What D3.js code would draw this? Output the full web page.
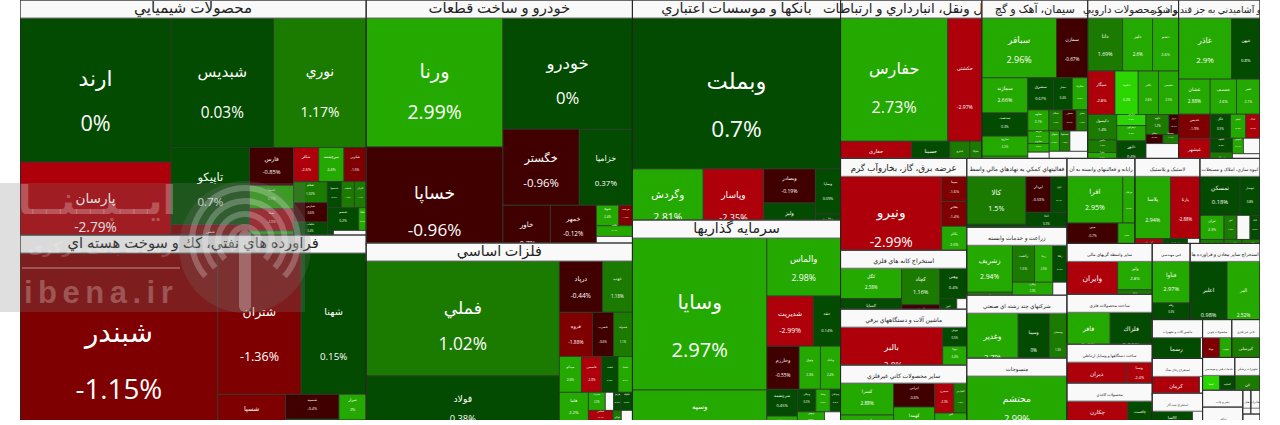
<!DOCTYPE html>
<html lang="fa">
<head>
<meta charset="utf-8">
<title>نقشه بازار</title>
<script src="https://cdn.jsdelivr.net/npm/d3@7"></script>
<style>
  body { margin: 0; background: #fff; }
  svg { display: block; font-family: "Open Sans", "DejaVu Sans", sans-serif; }
</style>
</head>
<body>
<div id="chart"></div>
<script>
// صنایع: نام و وزن هر گروه (تخمین از روی تصویر)
const sectorNames = [
  'محصولات شيميايي', 'فراورده هاي نفتي، کك و سوخت هسته اي', 'خودرو و ساخت قطعات', 'فلزات اساسي',
  'بانکها و موسسات اعتباري', 'سرمايه گذاريها', 'حمل ونقل، انبارداري و ارتباطات', 'سيمان، آهک و گچ',
  'مواد و محصولات دارويي', 'غذايي و آشاميدني به جز قند و شکر', 'عرضه برق، گاز، بخاروآب گرم', 'استخراج کانه هاي فلزي',
  'ماشين آلات و دستگاههاي برقي', 'ساير محصولات کاني غيرفلزي', 'فعاليتهاي کمکي به نهادهاي مالي واسط', 'زراعت و خدمات وابسته',
  'شرکتهاي چند رشته اي صنعتي', 'منسوجات', 'رايانه و فعاليتهاي وابسته به آن', 'لاستيک و پلاستيک',
  'انبوه سازي، املاک و مستغلات', 'ساير واسطه گريهاي مالي', 'ساخت محصولات فلزي', 'ساخت دستگاهها و وسايل ارتباطي',
  'محصولات کاغذي', 'فني مهندسي', 'استخراج ساير معادن و فراورده ها', 'ماشين آلات و تجهيزات',
  'استخراج زغال سنگ', 'استخراج نفت گاز', 'محصولات چوبي', 'کاني غير فلزي',
  'خدمات فني و مهندسي', 'تجهيزات پزشکي', 'نشر و چاپ', 'دباغي', 'هتل', 'مخابرات', 'بيمه'
];
const sectorValues = [
  81310, 64010, 64638, 47082, 45760, 41600, 22357, 16748, 14378, 12877, 11592, 7434,
  7056, 6930, 6900, 6800, 6300, 6200, 5780, 5525, 5100, 4335, 4250, 3315, 3145, 2888,
  5320, 1950, 1750, 1350, 1102, 1064, 1056, 825, 680, 520, 192, 216, 102
];

// نماد، وزن و درصد تغییر سهمها به تفکیک گروه (null یعنی خانه خالی)
const symbols = [
  ['ارند','پارسان','شبدیس','نوري','تاپیکو','شفن','فارس','فسپا','شفا','شدوص','شکلر','سرچشمه','شکربن','شفام','شپارس','شلعاب','شگل','شصفها','شنفت','کترام','شسم','شلیا','شیران','شسینا',''],
  ['شبندر','شتران','شهنا','شسپا','شسپه','شاوان','شراز','شرانل'],
  ['ورنا','خساپا','خودرو','خگستر','خزامیا','خاور','خمهر','خکار','ختوقا','خریخت','خلنت',''],
  ['فملي','فولاد','درپاد','ذوب','فروه','فسرب','فسوله','میدکو','فاسمین','فنفت','فسپا','فاما','فجر','بسرب','','هرمز','فلوله','فخاس','فگستر','فولای',''],
  ['وبملت','وگردش','وپاسار','وبصادر','ولیز','وساپا','وخارزم'],
  ['وسایا','وسپه','والماس','شدیریت','حقه','وخارزم','وثوق','وبانک','سرچشمه','وصنعت','ونیکی','وصنا','وبوعلی','وبهمن','ونفت',''],
  ['حفارس','حکشتی','حفاری','حسینا','حپترو','حتوکا'],
  ['سباقر','سمازن','سمازند','سدشت','سارود','سفانو','سشرق','سفار','سکرما','ساوه','سیلام','سخزر','سنیر','سرمد','ساروم','سغرب','','سبهان','سصفها','',''],
  ['دانا','دلبر','دسم','سیگار','دعبید','دالبر','دشیمی','دکپسول','دامین','دفرا','دتماد','دپارس','دزهراوی','دابور','دکوثر','داوه','دروز','دجابر','دسبحا',''],
  ['غاذر','غبهن','غشان','غشصف','غمر','غدیس','غبشهر','غگل','غپینو','غپاک','غشهد','غسالم','غنوش','','' ],
  ['ونیرو','بمپنا','بفجر','بکام','بگیلان'],
  ['کگل','کساپا','کچاد','کروی','وهنی','کنور',''],
  ['بالبر','جوش','بنوتا','بشهاب'],
  ['کسرا','فسرت','ایرانی','کهمدا','سیمرغ','کفپارس','کنور',''],
  ['کالا','ارفع','اپرداز','اوان','اتکا','امین'],
  ['زشریف','زمگسا','زکشت','زبینا','زفکا','زملارد','زدشت',''],
  ['وغدیر','وسینا','وسبحان','وصنعت'],
  ['محتشم'],
  ['افرا','مرقام','مبین','رتاپ','سپ'],
  ['پلاسا','پارتا','پکرمان','پدرخش',''],
  ['ثمسکن','ثبهساز','ثتران','ثشاهد','ثنور','','ثاباد','ثفارس','ثالوند'],
  ['وایران','ولیز','ولکار'],
  ['فافر','فلزاك'],
  ['دیران','وسنا',''],
  ['چکارن','چافست'],
  ['فنآوا','رفاه','وتوس'],
  ['اعلیر','البر'],
  ['رسما',''],
  ['کرمان',''],
  ['کالسا',''],
  ['چوکا','چنوب'],
  ['کپرسلی'],
  ['کیمیا','کساوه'],
  ['فن'],
  [], [], [], [], []
];
const weights = [
  [21600,13650,13184,11904,6006,2233,1672,1012,968,968,858,858,759,702,648,567,468,364,338,308,704,168,140,736],
  [36445,11703,9165,2948,1325,1007,702,486],
  [17544,15504,14319,5776,4028,2632,1960,598,460,280,380,884],
  [22080,11904,2193,1530,1452,924,836,783,725,580,513,918,399,304,152,130,206,336,340,230,306],
  [31050,4830,4140,1734,1785,1125,600],
  [20216,6384,4234,2300,1350,1376,903,860,810,660,414,322,230,416,286,416],
  [13161,4182,2485,1330,700,420],
  [4440,1860,1610,1058,920,920,825,594,495,440,286,286,242,270,180,324,190,209,209,361,960],
  [1855,1590,1378,1188,1012,880,880,736,368,345,345,322,448,768,266,456,192,156,144,1066],
  [3172,1708,1085,910,805,744,1178,480,360,336,308,528,165,253,608],
  [9292,625,625,750,300],
  [1830,1708,1368,836,810,476,280],
  [5712,456,481,407],
  [1696,1219,984,1271,570,390,475,325],
  [2832,1239,900,576,825,528],
  [2115,945,814,666,518,682,558,434],
  [3213,1666,957,435],
  [6200],
  [2585,564,1102,836,646],
  [2170,1798,621,552,276],
  [1560,780,576,528,312,312,240,396,396],
  [2550,969,765],
  [2100,2050],
  [2301,663,351],
  [2220,888],
  [1558,665,630],
  [2812,2508],
  [1872,78],
  [1645,105],
  [1080,270],
  [646,456],
  [1064],
  [561,495],
  [825],
  [], [], [], [], []
];
const changes = [
  [0,-2.79,0.03,1.17,0.7,-1.3,-0.85,2.1,-2.5,2.2,-2.6,2.4,-1.5,1.02,-0.6,0.4,0.3,0.2,1.2,1.4,0.2,2.3,0.5,null],
  [-1.15,-1.36,0.15,-1.2,-0.4,0.3,2,0.6],
  [2.99,-0.96,0,-0.96,0.37,-0.7,-0.12,-1.4,2.4,-1.3,2.1,null],
  [1.02,0.38,-0.44,1.18,-1.88,-0.6,1.1,2.6,-2.8,0.3,2.5,2.2,0.4,2.3,null,0.3,0.2,-2.4,2.4,1.3,null],
  [0.7,2.81,-2.35,-0.19,0.3,0.09,0.2],
  [2.97,2.97,2.98,-2.99,0.14,-0.55,2.3,2.4,0.45,2.2,0.3,2.2,0.2,2.6,0.5,null],
  [2.73,-2.97,-2.6,0.2,1.4,1.3],
  [2.96,-0.67,2.66,0.3,2.2,2.4,0.67,0.4,2.3,2.1,1.3,-0.7,1.2,2.5,2.2,null,2.4,2.3,1.3,null,null],
  [1.69,2.6,2.6,-2.8,3.2,2.6,2.5,1.4,1.2,2.3,-0.8,3.3,2.2,0.4,2.5,1.2,-0.7,-0.6,1.1,null],
  [2.9,0.8,2.88,2.6,2.1,-1.9,-2.9,0.5,2.3,-2.6,0.3,1.2,2.4,null,null],
  [-2.99,-1.6,-1.4,2.5,0.4],
  [2.38,0.3,1.16,-0.6,0.4,0.3,null],
  [-2.8,0.5,2.4,1.2],
  [2.88,2.2,-0.6,2.4,-2.3,1.3,2.2,null],
  [1.5,0.3,-0.53,0.4,0.3,-2.5],
  [2.94,1.3,1.5,2.5,0.3,2.3,2.4,null],
  [2.7,0,1.3,2.5],
  [2.99],
  [2.95,2.3,-0.7,1.3,2.4],
  [2.94,-2.88,-2.3,0.3,null],
  [0.18,0.8,2.3,1.3,1.3,null,0.3,1.2,1.4],
  [-2.8,2.8,1.2],
  [2.8,0.55],
  [-2.5,-2.4,null],
  [-2.8,0.3],
  [2.97,0.3,1.3],
  [0.98,2.52],
  [0.4,null],
  [-2.6,null],
  [0.3,null],
  [-1.6,2.3],
  [1.6],
  [3.2,0.2],
  [1.2],
  [], [], [], [], []
];

const changeSteps = [-2, -1, 0, 1, 2, 3];
const changeColors = ['#ae000a', '#7f0000', '#400000', '#034b00', '#1a7b00', '#24a900', '#2ad500'];

const WIDTH = 1280, HEIGHT = 425, LEFT = 20, MAP_W = 1240, MAP_H = 420, HEADER = 18;

const color = d3.scaleThreshold().domain(changeSteps).range(changeColors);
const titleSize = d3.scaleLinear().domain([40, 70, 150, 285]).range([3, 4.5, 13.5, 15.2]).clamp(true);

const svg = d3.select('#chart').append('svg').attr('width', WIDTH).attr('height', HEIGHT);

svg.append('clipPath').attr('id', 'mapClip')
  .append('rect').attr('width', MAP_W).attr('height', MAP_H);

// چیدمان گروهها
const sectorRoot = d3.hierarchy({ children: sectorNames.map((name, i) => ({ name, i, value: sectorValues[i] })) })
  .sum(d => d.value || 0);
d3.treemap().tile(d3.treemapSquarify).size([MAP_W, MAP_H])(sectorRoot);

const map = svg.append('g').attr('transform', `translate(${LEFT},0)`).attr('clip-path', 'url(#mapClip)');

sectorRoot.children.forEach(sector => {
  const i = sector.data.i;
  const w = sector.x1 - sector.x0, h = sector.y1 - sector.y0;
  const g = map.append('g').attr('transform', `translate(${sector.x0},${sector.y0})`);

  g.append('clipPath').attr('id', 'clip' + i)
    .append('rect').attr('width', w).attr('height', h);

  // خانه ها به اندازه کل گروه چیده میشوند و زیر سرتیتر میروند، ته آنها بریده میشود
  const cells = g.append('g').attr('clip-path', `url(#clip${i})`);
  cells.append('rect').attr('width', w).attr('height', h).attr('fill', '#f9f9f9');

  if (weights[i].length) {
    const root = d3.hierarchy({ children: weights[i].map((value, k) => ({ value, k })) }).sum(d => d.value || 0);
    d3.treemap().tile(d3.treemapSquarify).size([w, h])(root);

    const leaf = cells.selectAll('g.leaf').data(root.children).join('g')
      .attr('class', 'leaf')
      .attr('transform', d => `translate(${d.x0},${d.y0 + HEADER})`);

    leaf.append('rect')
      .attr('width', d => d.x1 - d.x0)
      .attr('height', d => d.y1 - d.y0)
      .attr('fill', d => changes[i][d.data.k] === null ? '#f9f9f9' : color(changes[i][d.data.k]))
      .attr('stroke', '#2d3a2d')
      .attr('stroke-width', 0.8);

    const named = leaf.filter(d => changes[i][d.data.k] !== null);
    const fs = d => Math.max(2.5, Math.min(d.x1 - d.x0, d.y1 - d.y0) * 0.15);

    named.append('text')
      .attr('x', d => (d.x1 - d.x0) / 2)
      .attr('y', d => (d.y1 - d.y0) * 0.46 - 6)
      .attr('dy', '0.35em')
      .attr('text-anchor', 'middle')
      .attr('direction', 'rtl')
      .attr('fill', '#fff')
      .attr('font-size', fs)
      .text(d => symbols[i][d.data.k]);

    named.append('text')
      .attr('x', d => (d.x1 - d.x0) / 2)
      .attr('y', d => (d.y1 - d.y0) * 0.76 - 4)
      .attr('dy', '0.35em')
      .attr('text-anchor', 'middle')
      .attr('fill', '#fff')
      .attr('font-size', fs)
      .text(d => changes[i][d.data.k] + '%');
  }

  // سرتیتر گروه: بریده نمیشود و گروه بعدی رویش می افتد
  g.append('rect').attr('width', w).attr('height', HEADER).attr('fill', '#f9f9f9').attr('stroke', '#777').attr('stroke-width', 1);
  g.append('rect').attr('width', w).attr('height', h + 2).attr('fill', 'none').attr('stroke', '#222').attr('stroke-width', 1);
  g.append('text')
    .attr('x', w / 2)
    .attr('y', 13)
    .attr('text-anchor', 'middle')
    .attr('direction', 'rtl')
    .attr('fill', '#222')
    .attr('font-size', titleSize(Math.sqrt(w * h)))
    .text(sector.data.name);
});

// لوگوی ایبنا
const mark = svg.append('g');
mark.append('rect').attr('x', 0).attr('y', 183).attr('width', 305).attr('height', 129).attr('fill', 'rgb(123,123,123)').attr('fill-opacity', 0.24);
mark.append('circle').attr('cx', 245).attr('cy', 247).attr('r', 66).attr('fill', '#7b7b7b').attr('fill-opacity', 0.2);
const arc = d3.arc();
[14, 27, 40, 53].forEach(r => {
  mark.append('path')
    .attr('transform', 'translate(245,241)')
    .attr('d', arc({ innerRadius: r - 3, outerRadius: r + 3, startAngle: -2.3, endAngle: 2.3 }))
    .attr('fill', '#fff').attr('fill-opacity', 0.24);
});
mark.append('rect').attr('x', 239).attr('y', 230).attr('width', 12).attr('height', 82).attr('rx', 6).attr('fill', '#fff').attr('fill-opacity', 0.28);
mark.append('text').attr('x', 97).attr('y', 214).attr('text-anchor', 'middle').attr('direction', 'rtl')
  .attr('font-size', 40).attr('font-weight', 'bold').attr('fill', '#fff').attr('fill-opacity', 0.25).text('ایــبــنــا');
mark.append('text').attr('x', 100).attr('y', 253).attr('text-anchor', 'middle').attr('direction', 'rtl')
  .attr('font-size', 16).attr('font-weight', 'bold').attr('fill', '#fff').attr('fill-opacity', 0.2).text('رسانه بانک مرکزی');
mark.append('rect').attr('x', 22).attr('y', 267).attr('width', 158).attr('height', 2).attr('fill', '#fff').attr('fill-opacity', 0.25);
mark.append('text').attr('x', 24).attr('y', 303).attr('font-size', 31).attr('font-weight', 'bold').attr('letter-spacing', 5.5)
  .attr('font-family', '"Liberation Sans", sans-serif').attr('fill', '#fff').attr('fill-opacity', 0.25).text('ibena.ir');
</script>
</body>
</html>
